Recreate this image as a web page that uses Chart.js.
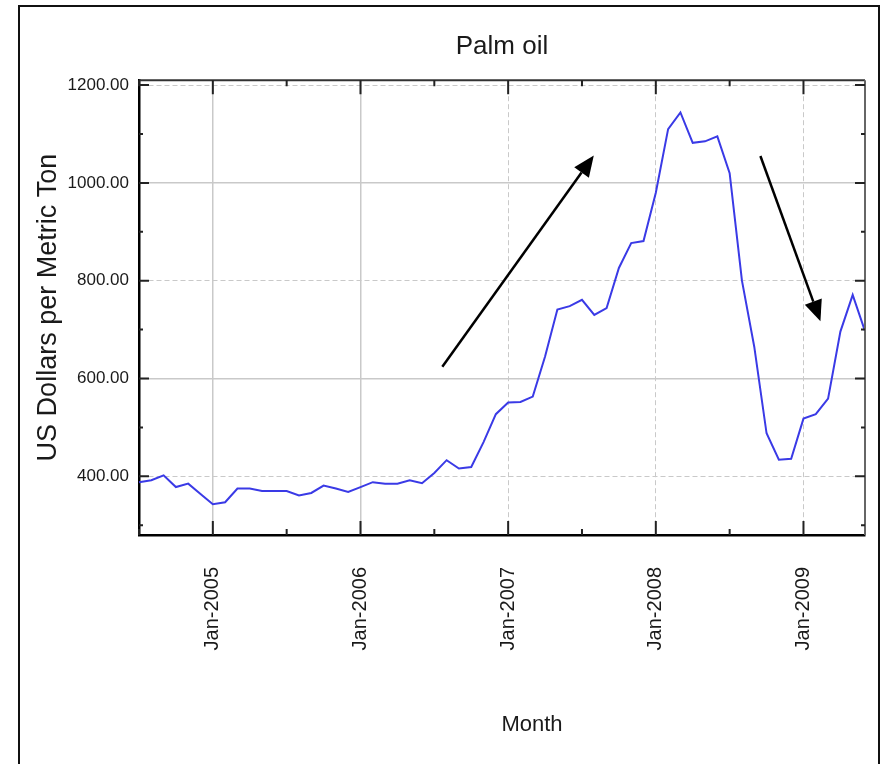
<!DOCTYPE html>
<html>
<head>
<meta charset="utf-8">
<script src="https://cdn.jsdelivr.net/npm/chart.js@4"></script>
<style>
  html, body { margin: 0; padding: 0; background: #fff; }
  #wrap { width: 881px; height: 764px; position: relative; }
</style>
</head>
<body>
<div id="wrap"><canvas id="c" width="881" height="764"></canvas></div>
<script>
// Monthly palm oil price, July 2004 – June 2009
const months = [
  'Jul-2004','Aug-2004','Sep-2004','Oct-2004','Nov-2004','Dec-2004',
  'Jan-2005','Feb-2005','Mar-2005','Apr-2005','May-2005','Jun-2005',
  'Jul-2005','Aug-2005','Sep-2005','Oct-2005','Nov-2005','Dec-2005',
  'Jan-2006','Feb-2006','Mar-2006','Apr-2006','May-2006','Jun-2006',
  'Jul-2006','Aug-2006','Sep-2006','Oct-2006','Nov-2006','Dec-2006',
  'Jan-2007','Feb-2007','Mar-2007','Apr-2007','May-2007','Jun-2007',
  'Jul-2007','Aug-2007','Sep-2007','Oct-2007','Nov-2007','Dec-2007',
  'Jan-2008','Feb-2008','Mar-2008','Apr-2008','May-2008','Jun-2008',
  'Jul-2008','Aug-2008','Sep-2008','Oct-2008','Nov-2008','Dec-2008',
  'Jan-2009','Feb-2009','Mar-2009','Apr-2009','May-2009','Jun-2009'
];

const palmOilPrice = [
  388, 392, 402, 378, 385, 364,
  343, 347, 375, 375, 370, 370,
  370, 361, 366, 381, 375, 368,
  378, 388, 385, 385, 392, 386,
  407, 433, 416, 419, 470, 527,
  551, 552, 563, 645, 741, 748,
  761, 730, 744, 826, 877, 881,
  980, 1110, 1144, 1082, 1085, 1095,
  1020, 800, 665, 488, 434, 436,
  518, 527, 559, 696, 771, 697
];

// Labelled ticks on each axis
const yearTicks = ['Jan-2005', 'Jan-2006', 'Jan-2007', 'Jan-2008', 'Jan-2009'];
const halfYearTicks = ['Jul-2004', 'Jul-2005', 'Jul-2006', 'Jul-2007', 'Jul-2008'];
const priceTicks = [400, 600, 800, 1000, 1200];
const priceMinorTicks = [300, 500, 700, 900, 1100];
const solidYearGrid = ['Jan-2005', 'Jan-2006'];
const solidPriceGrid = [600, 1000];

// Trend arrows, in (month index, price) units
const trendArrows = [
  { from: [24.65, 624], to: [36.96, 1056] },
  { from: [50.5, 1055], to: [55.38, 717] }
];

const SANS = "'Liberation Sans', Arial, Helvetica, sans-serif";
const GRID = '#c9c9c9';

// Frame, inner tick marks, trend arrows and the x-axis caption
const decorations = {
  id: 'decorations',
  afterDatasetsDraw(chart) {
    const { ctx, chartArea: a, scales: { x, y } } = chart;
    ctx.save();

    // top and right edges of the plot box
    ctx.lineWidth = 2;
    ctx.strokeStyle = '#333';
    ctx.beginPath();
    ctx.moveTo(a.left, a.top); ctx.lineTo(a.right, a.top);
    ctx.stroke();
    ctx.strokeStyle = '#666';
    ctx.beginPath();
    ctx.moveTo(a.right, a.top); ctx.lineTo(a.right, a.bottom);
    ctx.stroke();

    // inward tick marks on all four sides
    ctx.strokeStyle = '#222';
    ctx.lineWidth = 2;
    const vTick = (lbl, len) => {
      const px = x.getPixelForValue(months.indexOf(lbl));
      ctx.beginPath();
      ctx.moveTo(px, a.bottom); ctx.lineTo(px, a.bottom - len);
      ctx.moveTo(px, a.top); ctx.lineTo(px, a.top + len);
      ctx.stroke();
    };
    yearTicks.forEach(l => vTick(l, 14));
    halfYearTicks.forEach(l => vTick(l, 6));
    const hTick = (v, len) => {
      const py = y.getPixelForValue(v);
      ctx.beginPath();
      ctx.moveTo(a.left, py); ctx.lineTo(a.left + len, py);
      ctx.moveTo(a.right, py); ctx.lineTo(a.right - len, py);
      ctx.stroke();
    };
    priceTicks.forEach(v => hTick(v, 10));
    priceMinorTicks.forEach(v => hTick(v, 4));

    // trend arrows
    ctx.strokeStyle = '#000';
    ctx.fillStyle = '#000';
    ctx.lineWidth = 2.5;
    trendArrows.forEach(ar => {
      const x0 = x.getPixelForValue(ar.from[0]), y0 = y.getPixelForValue(ar.from[1]);
      const x1 = x.getPixelForValue(ar.to[0]), y1 = y.getPixelForValue(ar.to[1]);
      const ang = Math.atan2(y1 - y0, x1 - x0);
      const head = 21, half = 9;
      const bx = x1 - head * Math.cos(ang), by = y1 - head * Math.sin(ang);
      ctx.beginPath();
      ctx.moveTo(x0, y0); ctx.lineTo(bx, by);
      ctx.stroke();
      ctx.beginPath();
      ctx.moveTo(x1, y1);
      ctx.lineTo(bx + half * Math.sin(ang), by - half * Math.cos(ang));
      ctx.lineTo(bx - half * Math.sin(ang), by + half * Math.cos(ang));
      ctx.closePath();
      ctx.fill();
    });
    ctx.restore();
  },
  afterDraw(chart) {
    const { ctx } = chart;
    ctx.save();
    // outer frame
    ctx.strokeStyle = '#111';
    ctx.lineWidth = 2;
    ctx.strokeRect(19, 6, 860, 800);
    // x-axis caption
    ctx.fillStyle = '#1a1a1a';
    ctx.font = "22px " + SANS;
    ctx.textAlign = 'center';
    ctx.textBaseline = 'middle';
    ctx.fillText('Month', 532, 725);
    ctx.restore();
  }
};

new Chart(document.getElementById('c'), {
  type: 'line',
  data: {
    labels: months,
    datasets: [{
      label: 'Palm oil',
      data: palmOilPrice,
      borderColor: '#3a3ae6',
      borderWidth: 2,
      pointRadius: 0,
      tension: 0,
      fill: false
    }]
  },
  options: {
    responsive: false,
    animation: false,
    devicePixelRatio: 1,
    layout: { padding: { left: 0, right: 16, top: 0, bottom: 0 } },
    plugins: {
      legend: { display: false },
      tooltip: { enabled: false },
      title: {
        display: true,
        fullSize: false,
        text: 'Palm oil',
        color: '#1a1a1a',
        font: { family: SANS, size: 26, weight: 'normal' },
        padding: { top: 31, bottom: 18 }
      }
    },
    scales: {
      x: {
        type: 'category',
        offset: false,
        afterFit(s) { s.height = 229; },
        grid: {
          drawTicks: false,
          color: c => (c.tick && yearTicks.includes(months[c.tick.value])) ? GRID : 'rgba(0,0,0,0)',
          lineWidth: c => (c.tick && solidYearGrid.includes(months[c.tick.value])) ? 1.5 : 1
        },
        border: {
          display: true,
          color: '#000',
          width: 2.5,
          dash: c => (c.tick && !solidYearGrid.includes(months[c.tick.value])) ? [5, 3] : []
        },
        ticks: {
          autoSkip: false,
          maxRotation: 90,
          minRotation: 90,
          padding: 32,
          color: '#1a1a1a',
          font: { family: SANS, size: 20 },
          callback: (v, i) => yearTicks.includes(months[v]) ? months[v] : null
        }
      },
      y: {
        type: 'linear',
        min: 280,
        max: 1210,
        afterFit(s) { s.width = 139; },
        grid: {
          drawTicks: false,
          color: c => (c.tick && priceTicks.includes(c.tick.value)) ? GRID : 'rgba(0,0,0,0)',
          lineWidth: c => (c.tick && solidPriceGrid.includes(c.tick.value)) ? 1.5 : 1
        },
        border: {
          display: true,
          color: '#000',
          width: 2.5,
          dash: c => (c.tick && !solidPriceGrid.includes(c.tick.value)) ? [5, 3] : []
        },
        ticks: {
          stepSize: 100,
          includeBounds: false,
          padding: 10,
          color: '#1a1a1a',
          font: { family: SANS, size: 17 },
          callback: v => priceTicks.includes(v) ? v.toFixed(2) : null
        },
        title: {
          display: true,
          text: 'US Dollars per Metric Ton',
          color: '#1a1a1a',
          font: { family: SANS, size: 27 },
          padding: { top: 32, bottom: 0 }
        }
      }
    }
  },
  plugins: [decorations]
});
</script>
</body>
</html>
